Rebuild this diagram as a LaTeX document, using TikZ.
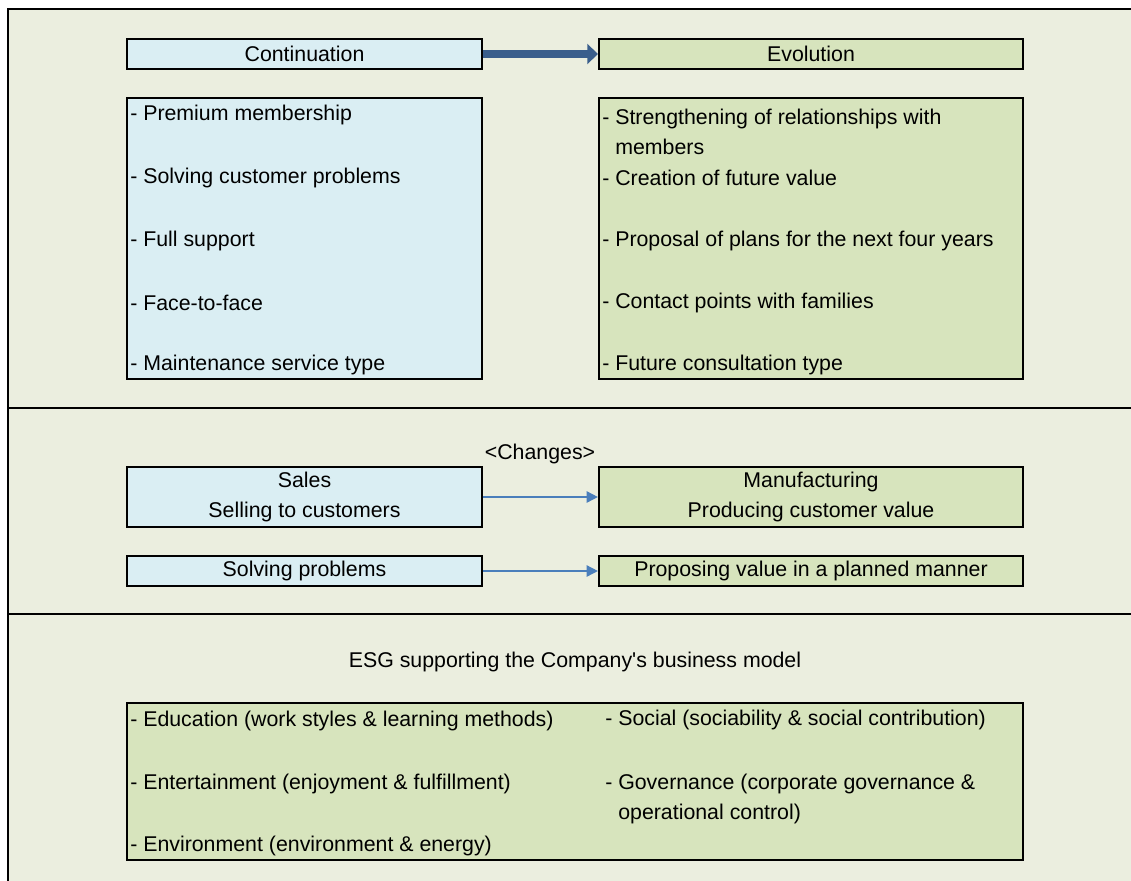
\documentclass[tikz,border=0pt]{standalone}
\usepackage{fontspec}
\setmainfont{Liberation Sans}
\usepackage{xcolor}
\usepackage{tikz}
\usetikzlibrary{positioning}
\usetikzlibrary{arrows.meta}

\definecolor{contfill}{HTML}{DAEEF3}
\definecolor{evofill}{HTML}{D7E4BD}
\definecolor{panelfill}{HTML}{EBEEDF}
\definecolor{bigarrow}{HTML}{3A5E8C}
\definecolor{thinarrow}{HTML}{4A7EBB}

\begin{document}
\begin{tikzpicture}[x=0.75pt,y=-0.75pt,font=\fontsize{16}{23}\selectfont,
  box/.style={draw,line width=1.6pt,inner sep=0pt,align=center},
  cont/.style={box,fill=contfill,minimum width=266pt},
  evo/.style={box,fill=evofill,minimum width=318pt},
  item/.style={anchor=west,inner sep=0pt,align=left},
  heavy/.style={-{Triangle[length=8pt,width=15pt]},line width=6pt,bigarrow},
  light/.style={-{Triangle[length=8.5pt,width=8.5pt]},line width=1.2pt,thinarrow}]
\useasboundingbox (0,0) rectangle (1131,881);
% frame and dividers
\draw[fill=panelfill,line width=1.6pt] (8,9) rectangle (1145,895);
\draw[line width=1.6pt] (8,408) -- (1145,408)
                        (8,614) -- (1145,614);

% upper part
\node[cont,minimum height=22.5pt] (cont) at (304.5,54)  {Continuation};
\node[evo,minimum height=22.5pt]  (evo)  at (811,54)    {Evolution};
\node[cont,minimum height=210.75pt] (contlist) at (304.5,238.5) {};
\node[evo,minimum height=210.75pt]  (evolist)  at (811,238.5)   {};

\node[item] (c1) at (130,115) {- Premium membership};
\node[item] (c2) at (130,178) {- Solving customer problems};
\node[item] (c3) at (130,241) {- Full support};
\node[item] (c4) at (130,303) {- Face-to-face};
\node[item] (c5) at (130,365) {- Maintenance service type};

\node[item] (e1) at (602,132) {- Strengthening of relationships with\\\hphantom{- }members};
\node[item] (e2) at (602,178) {- Creation of future value};
\node[item] (e3) at (602,241) {- Proposal of plans for the next four years};
\node[item] (e4) at (602,303) {- Contact points with families};
\node[item] (e5) at (602,365) {- Future consultation type};

\draw[heavy] (cont) -- (evo);

% middle part
\node (changes) at (540,454) {\textless Changes\textgreater};
\node[cont,minimum height=45pt] (sales) at (304.5,497) {Sales\\Selling to customers};
\node[evo,minimum height=45pt]  (manuf) at (811,497)   {Manufacturing\\Producing customer value};
\node[cont,minimum height=22.5pt] (solve)   at (304.5,571) {Solving problems};
\node[evo,minimum height=22.5pt]  (propose) at (811,571)   {Proposing value in a planned manner};

\draw[light] (sales) -- (manuf);
\draw[light] (solve) -- (propose);

% lower part
\node (esgtitle) at (575,662) {ESG supporting the Company\textquotesingle s business model};
\node[box,fill=evofill,minimum width=672pt,minimum height=117.75pt] (esg) at (575,781.5) {};

\node[item] (g1) at (130,721) {- Education (work styles \& learning methods)};
\node[item] (g2) at (130,784) {- Entertainment (enjoyment \& fulfillment)};
\node[item] (g3) at (130,846) {- Environment (environment \& energy)};
\node[item] (g4) at (605,720) {- Social (sociability \& social contribution)};
\node[item] (g5) at (605,799) {- Governance (corporate governance \&\\\hphantom{- }operational control)};
\end{tikzpicture}
\end{document}
